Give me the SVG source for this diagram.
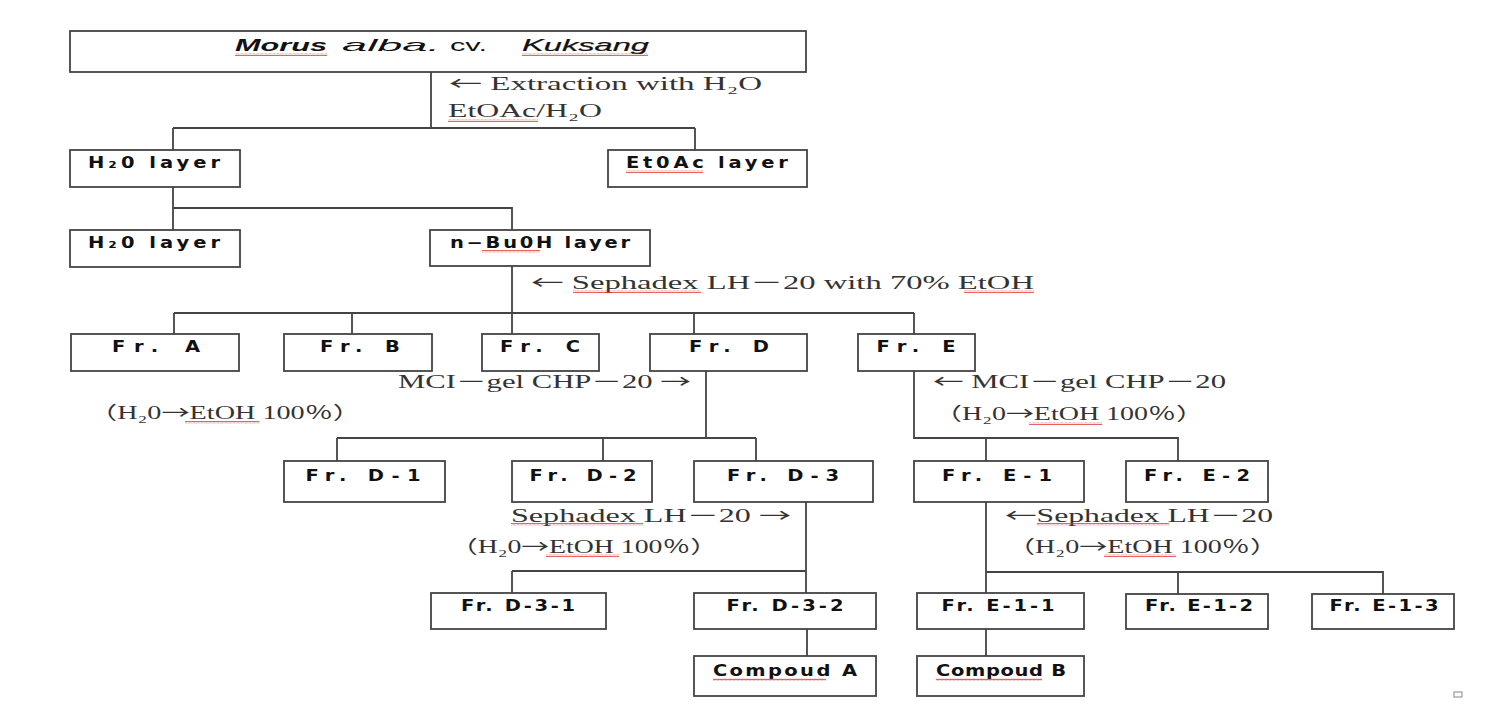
<svg xmlns="http://www.w3.org/2000/svg" width="1501" height="718" viewBox="0 0 1501 718">
  <style>
    .box { fill: #fff; stroke: #444; stroke-width: 1.8; }
    .ln { fill: none; stroke: #444; stroke-width: 1.8; }
    .b { font-family: "DejaVu Sans", "Liberation Sans", sans-serif; font-weight: bold; font-size: 15px; fill: #111; text-anchor: middle; }
    .s { font-family: "Liberation Serif", "Noto Sans CJK KR", serif; font-size: 18px; fill: #333; }
    .ar { font-family: "Noto Sans CJK KR", sans-serif; }
    .t { font-family: "Liberation Sans", sans-serif; font-size: 17px; fill: #111; }
    .sq { fill: url(#wave); }
  </style>
  <defs>
    <!-- red wavy underline tile -->
    <pattern id="wave" width="4" height="3" patternUnits="userSpaceOnUse">
      <path d="M0 2.4 L1 0.8 L2 2.4 L3 0.8 L4 2.4" fill="none" stroke="#e03030" stroke-width="0.8"/>
    </pattern>
  </defs>

  <rect width="1501" height="718" fill="#fff"/>

  <!-- connectors -->
  <g id="connectors">
    <path class="ln" d="M431 72 V128 M173 128 H695 M173 128 V150 M695 128 V150"/>
    <path class="ln" d="M173 187 V208 H512 V230 M173 208 V230"/>
    <path class="ln" d="M512 266 V313 M174 313 H914 M174 313 V334 M352 313 V334 M512 313 V334 M694 313 V334 M914 313 V334"/>
    <path class="ln" d="M706 371 V438 M337 438 H756 M337 438 V461 M603 438 V461 M756 438 V461"/>
    <path class="ln" d="M914 371 V438 H1178 V461 M986 438 V461"/>
    <path class="ln" d="M806 502 V593 M512 571 H806 M512 571 V593"/>
    <path class="ln" d="M986 502 V594 M986 572 H1383 V594 M1178 572 V594"/>
    <path class="ln" d="M807 629 V656 M986 629 V656"/>
  </g>

  <!-- annotations on the connectors -->
  <g id="labels">
    <text class="s" x="449" y="90" textLength="313" lengthAdjust="spacingAndGlyphs"><tspan class="ar">←</tspan> Extraction with H₂O</text>
    <text class="s" x="448" y="117" textLength="154" lengthAdjust="spacingAndGlyphs">EtOAc/H₂O</text>
    <rect class="sq" x="448" y="119" width="90" height="3"/>
    <text class="s" x="531" y="289" textLength="503" lengthAdjust="spacingAndGlyphs"><tspan class="ar">←</tspan> Sephadex LH－20 with 70% EtOH</text>
    <rect class="sq" x="573" y="290" width="128" height="3"/>
    <rect class="sq" x="964" y="290" width="70" height="3"/>
    <text class="s" x="398" y="388" textLength="293" lengthAdjust="spacingAndGlyphs">MCI－gel CHP－20 <tspan class="ar">→</tspan></text>
    <text class="s" x="89" y="419" textLength="272" lengthAdjust="spacingAndGlyphs">（H₂0<tspan class="ar">→</tspan>EtOH 100％）</text>
    <rect class="sq" x="185" y="421" width="74" height="3"/>
    <text class="s" x="933" y="388" textLength="293" lengthAdjust="spacingAndGlyphs"><tspan class="ar">←</tspan> MCI－gel CHP－20</text>
    <text class="s" x="934" y="420" textLength="270" lengthAdjust="spacingAndGlyphs">（H₂0<tspan class="ar">→</tspan>EtOH 100％）</text>
    <rect class="sq" x="1029" y="422" width="73" height="3"/>
    <text class="s" x="511" y="522" textLength="280" lengthAdjust="spacingAndGlyphs">Sephadex LH－20 <tspan class="ar">→</tspan></text>
    <rect class="sq" x="511" y="523" width="132" height="3"/>
    <text class="s" x="450" y="553" textLength="268" lengthAdjust="spacingAndGlyphs">（H₂0<tspan class="ar">→</tspan>EtOH 100％）</text>
    <rect class="sq" x="546" y="554" width="73" height="3"/>
    <text class="s" x="1005" y="522" textLength="268" lengthAdjust="spacingAndGlyphs"><tspan class="ar">←</tspan>Sephadex LH－20</text>
    <rect class="sq" x="1037" y="523" width="132" height="3"/>
    <text class="s" x="1007" y="553" textLength="271" lengthAdjust="spacingAndGlyphs">（H₂0<tspan class="ar">→</tspan>EtOH 100％）</text>
    <rect class="sq" x="1104" y="554" width="72" height="3"/>
  </g>

  <!-- nodes (box captions are drawn 1.3x wide: x and textLength are in the scaled frame) -->
  <g id="n-source">
    <rect class="box" x="70" y="31" width="736" height="41"/>
    <text class="t" x="235" y="51" textLength="92" lengthAdjust="spacingAndGlyphs" font-style="italic" font-weight="bold">Morus</text>
    <text class="t" x="342" y="51" textLength="98" lengthAdjust="spacingAndGlyphs" font-style="italic">alba.</text>
    <text class="t" x="450" y="51" textLength="37" lengthAdjust="spacingAndGlyphs">cv.</text>
    <text class="t" x="522" y="51" textLength="127" lengthAdjust="spacingAndGlyphs" font-style="italic" stroke="#111" stroke-width="0.2">Kuksang</text>
    <rect class="sq" x="235" y="53" width="92" height="3"/>
    <rect class="sq" x="522" y="53" width="126" height="3"/>
  </g>
  <g id="n-h2o-1">
    <rect class="box" x="70" y="150" width="170" height="37"/>
    <text class="b" transform="scale(1.3 1)" x="118.5" y="168" textLength="101.5" lengthAdjust="spacing">H₂0 layer</text>
  </g>
  <g id="n-etoac">
    <rect class="box" x="608" y="150" width="199" height="37"/>
    <text class="b" transform="scale(1.3 1)" x="543.8" y="168" textLength="124.6" lengthAdjust="spacing">Et0Ac layer</text>
    <rect class="sq" x="626" y="170" width="77" height="3"/>
  </g>
  <g id="n-h2o-2">
    <rect class="box" x="70" y="230" width="170" height="37"/>
    <text class="b" transform="scale(1.3 1)" x="118.5" y="248" textLength="101.5" lengthAdjust="spacing">H₂0 layer</text>
  </g>
  <g id="n-buoh">
    <rect class="box" x="430" y="230" width="220" height="36"/>
    <text class="b" transform="scale(1.3 1)" x="415.4" y="248" textLength="138.5" lengthAdjust="spacing">n−Bu0H layer</text>
    <rect class="sq" x="482" y="250" width="58" height="3"/>
  </g>
  <g id="n-fr-a">
    <rect class="box" x="71" y="334" width="168" height="37"/>
    <text class="b" transform="scale(1.3 1)" x="120" y="352" textLength="67.7" lengthAdjust="spacing">Fr. A</text>
  </g>
  <g id="n-fr-b">
    <rect class="box" x="284" y="334" width="148" height="37"/>
    <text class="b" transform="scale(1.3 1)" x="276.9" y="352" textLength="61.5" lengthAdjust="spacing">Fr. B</text>
  </g>
  <g id="n-fr-c">
    <rect class="box" x="482" y="334" width="117" height="37"/>
    <text class="b" transform="scale(1.3 1)" x="415.4" y="352" textLength="61.5" lengthAdjust="spacing">Fr. C</text>
  </g>
  <g id="n-fr-d">
    <rect class="box" x="650" y="334" width="157" height="37"/>
    <text class="b" transform="scale(1.3 1)" x="560.8" y="352" textLength="61.5" lengthAdjust="spacing">Fr. D</text>
  </g>
  <g id="n-fr-e">
    <rect class="box" x="858" y="334" width="117" height="37"/>
    <text class="b" transform="scale(1.3 1)" x="704.6" y="352" textLength="60.8" lengthAdjust="spacing">Fr. E</text>
  </g>
  <g id="n-fr-d1">
    <rect class="box" x="284" y="461" width="161" height="41"/>
    <text class="b" transform="scale(1.3 1)" x="279.2" y="481" textLength="88.5" lengthAdjust="spacing">Fr. D-1</text>
  </g>
  <g id="n-fr-d2">
    <rect class="box" x="512" y="461" width="140" height="41"/>
    <text class="b" transform="scale(1.3 1)" x="448.5" y="481" textLength="82.3" lengthAdjust="spacing">Fr. D-2</text>
  </g>
  <g id="n-fr-d3">
    <rect class="box" x="694" y="461" width="179" height="41"/>
    <text class="b" transform="scale(1.3 1)" x="602.3" y="481" textLength="86.2" lengthAdjust="spacing">Fr. D-3</text>
  </g>
  <g id="n-fr-e1">
    <rect class="box" x="914" y="461" width="170" height="41"/>
    <text class="b" transform="scale(1.3 1)" x="766.9" y="481" textLength="84.6" lengthAdjust="spacing">Fr. E-1</text>
  </g>
  <g id="n-fr-e2">
    <rect class="box" x="1126" y="461" width="142" height="41"/>
    <text class="b" transform="scale(1.3 1)" x="920.8" y="481" textLength="81.5" lengthAdjust="spacing">Fr. E-2</text>
  </g>
  <g id="n-fr-d31">
    <rect class="box" x="431" y="593" width="175" height="36"/>
    <text class="b" transform="scale(1.3 1)" x="398.5" y="611" textLength="87.7" lengthAdjust="spacing">Fr. D-3-1</text>
  </g>
  <g id="n-fr-d32">
    <rect class="box" x="694" y="593" width="182" height="36"/>
    <text class="b" transform="scale(1.3 1)" x="603.8" y="611" textLength="90" lengthAdjust="spacing">Fr. D-3-2</text>
  </g>
  <g id="n-fr-e11">
    <rect class="box" x="917" y="593" width="167" height="36"/>
    <text class="b" transform="scale(1.3 1)" x="767.7" y="611" textLength="86.9" lengthAdjust="spacing">Fr. E-1-1</text>
  </g>
  <g id="n-fr-e12">
    <rect class="box" x="1126" y="594" width="142" height="35"/>
    <text class="b" transform="scale(1.3 1)" x="922.3" y="611" textLength="83.1" lengthAdjust="spacing">Fr. E-1-2</text>
  </g>
  <g id="n-fr-e13">
    <rect class="box" x="1312" y="594" width="142" height="35"/>
    <text class="b" transform="scale(1.3 1)" x="1064.6" y="611" textLength="83.8" lengthAdjust="spacing">Fr. E-1-3</text>
  </g>
  <g id="n-compound-a">
    <rect class="box" x="694" y="656" width="182" height="40"/>
    <text class="b" transform="scale(1.3 1)" x="603.8" y="676" textLength="110.8" lengthAdjust="spacing" font-size="16">Compoud A</text>
    <rect class="sq" x="713" y="678" width="113" height="3"/>
  </g>
  <g id="n-compound-b">
    <rect class="box" x="917" y="656" width="167" height="40"/>
    <text class="b" transform="scale(1.3 1)" x="770" y="676" textLength="100" lengthAdjust="spacing" font-size="16">Compoud B</text>
    <rect class="sq" x="936" y="678" width="106" height="3"/>
  </g>

  <!-- small end-of-page mark -->
  <rect x="1454" y="692" width="8" height="5" fill="none" stroke="#888" stroke-width="1"/>
</svg>
